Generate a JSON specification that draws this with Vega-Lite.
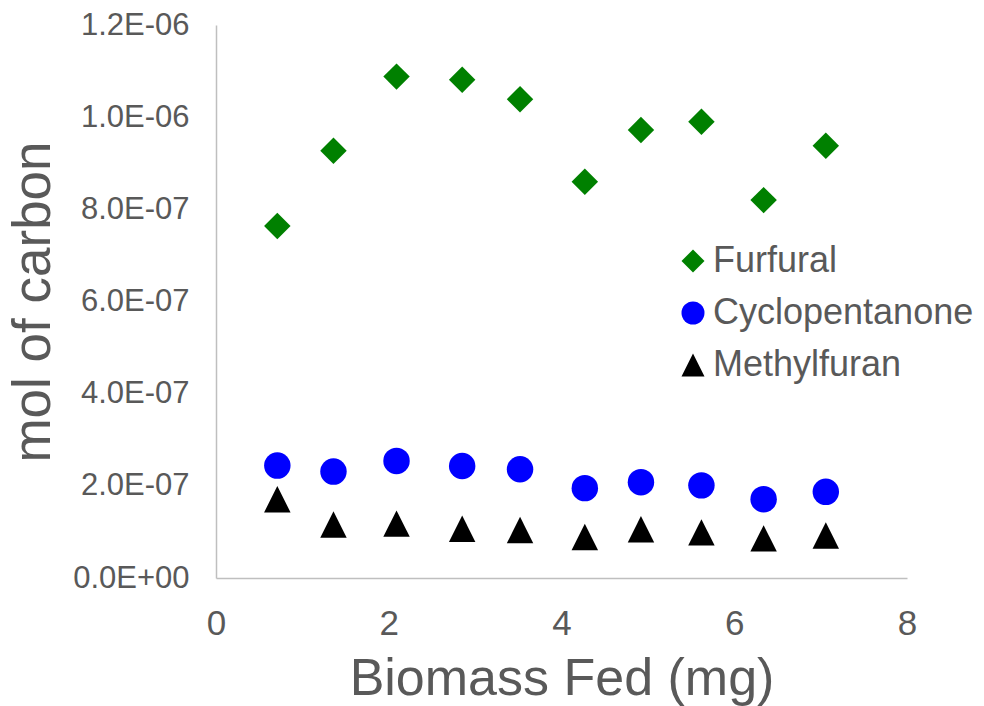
{
  "$schema": "https://vega.github.io/schema/vega-lite/v6.json",
  "autosize": {"type": "none"},
  "width": 691,
  "height": 553,
  "padding": {"left": 216, "top": 25, "right": 77, "bottom": 128},
  "background": "white",
  "config": {
    "view": {"stroke": null},
    "font": "Liberation Sans",
    "axis": {
      "domainColor": "#BFBFBF",
      "domainWidth": 1.5,
      "ticks": false,
      "tickSize": 0,
      "grid": false,
      "labelColor": "#595959",
      "labelFont": "Liberation Sans",
      "titleColor": "#595959",
      "titleFont": "Liberation Sans",
      "titleFontWeight": "normal",
      "labelFlush": false,
      "labelOverlap": false
    }
  },
  "data": {
    "values": [
      {"biomass": 0.71, "mol": 7.64e-7, "compound": "Furfural"},
      {"biomass": 1.36, "mol": 9.27e-7, "compound": "Furfural"},
      {"biomass": 2.09, "mol": 1.088e-6, "compound": "Furfural"},
      {"biomass": 2.85, "mol": 1.081e-6, "compound": "Furfural"},
      {"biomass": 3.52, "mol": 1.039e-6, "compound": "Furfural"},
      {"biomass": 4.27, "mol": 8.60e-7, "compound": "Furfural"},
      {"biomass": 4.92, "mol": 9.72e-7, "compound": "Furfural"},
      {"biomass": 5.62, "mol": 9.90e-7, "compound": "Furfural"},
      {"biomass": 6.34, "mol": 8.20e-7, "compound": "Furfural"},
      {"biomass": 7.06, "mol": 9.38e-7, "compound": "Furfural"},
      {"biomass": 0.71, "mol": 2.44e-7, "compound": "Cyclopentanone"},
      {"biomass": 1.36, "mol": 2.31e-7, "compound": "Cyclopentanone"},
      {"biomass": 2.09, "mol": 2.54e-7, "compound": "Cyclopentanone"},
      {"biomass": 2.85, "mol": 2.43e-7, "compound": "Cyclopentanone"},
      {"biomass": 3.52, "mol": 2.36e-7, "compound": "Cyclopentanone"},
      {"biomass": 4.27, "mol": 1.95e-7, "compound": "Cyclopentanone"},
      {"biomass": 4.92, "mol": 2.08e-7, "compound": "Cyclopentanone"},
      {"biomass": 5.62, "mol": 2.01e-7, "compound": "Cyclopentanone"},
      {"biomass": 6.34, "mol": 1.71e-7, "compound": "Cyclopentanone"},
      {"biomass": 7.06, "mol": 1.87e-7, "compound": "Cyclopentanone"},
      {"biomass": 0.71, "mol": 1.71e-7, "compound": "Methylfuran"},
      {"biomass": 1.36, "mol": 1.16e-7, "compound": "Methylfuran"},
      {"biomass": 2.09, "mol": 1.18e-7, "compound": "Methylfuran"},
      {"biomass": 2.85, "mol": 1.07e-7, "compound": "Methylfuran"},
      {"biomass": 3.52, "mol": 1.04e-7, "compound": "Methylfuran"},
      {"biomass": 4.27, "mol": 8.9e-8, "compound": "Methylfuran"},
      {"biomass": 4.92, "mol": 1.06e-7, "compound": "Methylfuran"},
      {"biomass": 5.62, "mol": 9.9e-8, "compound": "Methylfuran"},
      {"biomass": 6.34, "mol": 8.6e-8, "compound": "Methylfuran"},
      {"biomass": 7.06, "mol": 9.2e-8, "compound": "Methylfuran"}
    ]
  },
  "mark": {"type": "point", "filled": true, "opacity": 1, "size": 700, "strokeWidth": 0},
  "encoding": {
    "x": {
      "field": "biomass",
      "type": "quantitative",
      "scale": {"domain": [0, 8], "nice": false, "zero": false},
      "axis": {
        "values": [0, 2, 4, 6, 8],
        "labelFontSize": 35,
        "labelPadding": 28,
        "title": "Biomass Fed (mg)",
        "titleFontSize": 52,
        "titlePadding": 12
      }
    },
    "y": {
      "field": "mol",
      "type": "quantitative",
      "scale": {"domain": [0, 1.2e-6], "nice": false},
      "axis": {
        "values": [0, 2e-7, 4e-7, 6e-7, 8e-7, 1e-6, 1.2e-6],
        "labelExpr": "replace(replace(format(datum.value, '.1e'), 'e-', 'E-0'), 'e+', 'E+0')",
        "labelFontSize": 31,
        "labelPadding": 27,
        "title": "mol of carbon",
        "titleFontSize": 53,
        "titlePadding": 12
      }
    },
    "color": {
      "field": "compound",
      "type": "nominal",
      "scale": {
        "domain": ["Furfural", "Cyclopentanone", "Methylfuran"],
        "range": ["#008000", "#0000FF", "#000000"]
      },
      "legend": {
        "orient": "none",
        "legendX": 459,
        "legendY": 218,
        "title": null,
        "padding": 0,
        "labelFontSize": 36,
        "labelColor": "#595959",
        "labelFont": "Liberation Sans",
        "labelLimit": 500,
        "symbolSize": 529,
        "symbolStrokeWidth": 0,
        "rowPadding": 16,
        "labelOffset": 2
      }
    },
    "shape": {
      "field": "compound",
      "type": "nominal",
      "scale": {
        "domain": ["Furfural", "Cyclopentanone", "Methylfuran"],
        "range": ["diamond", "circle", "M0,-1L1,1L-1,1Z"]
      },
      "legend": {
        "orient": "none",
        "legendX": 459,
        "legendY": 218,
        "title": null,
        "padding": 0,
        "labelFontSize": 36,
        "labelColor": "#595959",
        "labelFont": "Liberation Sans",
        "labelLimit": 500,
        "symbolSize": 529,
        "symbolStrokeWidth": 0,
        "rowPadding": 16,
        "labelOffset": 2
      }
    }
  }
}
